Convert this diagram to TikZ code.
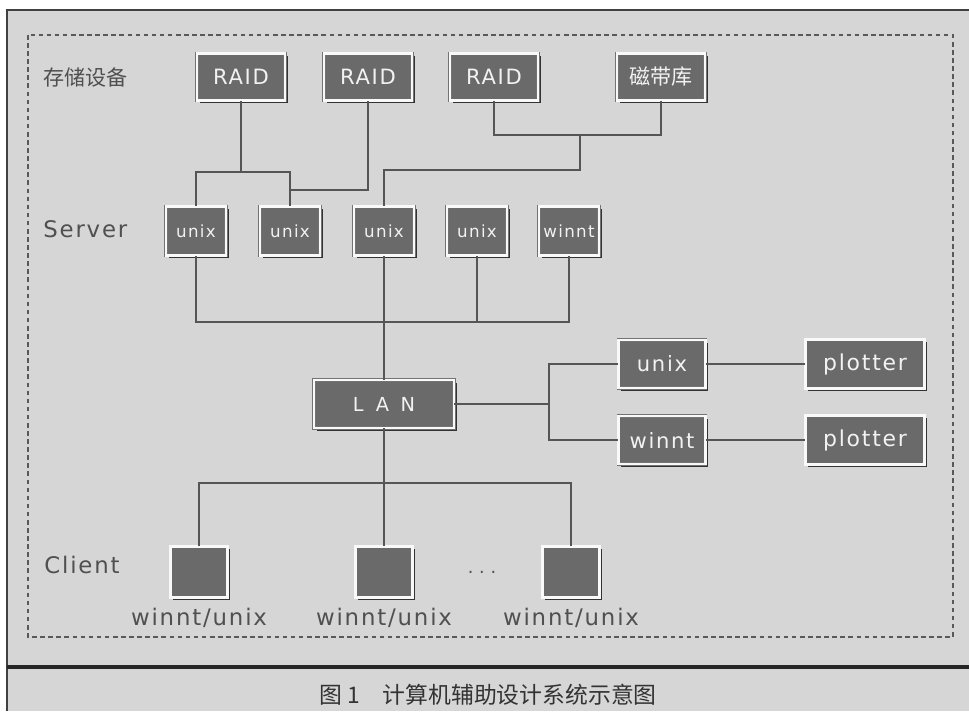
\documentclass[tikz,border=0pt]{standalone}
\usepackage{fontspec}
\setmainfont{DejaVu Sans}
\newfontfamily\boxfont[LetterSpace=8]{DejaVu Sans}
\newfontfamily\lanfont[LetterSpace=60]{DejaVu Sans}
\newfontfamily\cjkfont{Noto Sans CJK SC}
\usetikzlibrary{shapes}
\usetikzlibrary{positioning}
\usetikzlibrary{shadows}
\definecolor{paper}{RGB}{214,214,214}
\definecolor{boxgray}{RGB}{106,106,106}
\definecolor{wire}{RGB}{85,85,85}
\definecolor{labelgray}{RGB}{80,80,80}
\tikzset{
  device/.style={
    draw=black!55, double=white!95!gray, double distance=1.2pt, line width=0.4pt,
    fill=boxgray, text=white!90!gray, inner sep=0pt, font=\boxfont,
    drop shadow={shadow xshift=1.6pt, shadow yshift=-1.6pt, fill=black!80, opacity=1},
  },
  raid/.style={device, minimum width=1.76cm, minimum height=0.94cm, font=\boxfont\fontsize{12}{14}\selectfont},
  server/.style={device, minimum width=1.2cm, minimum height=0.98cm, font=\boxfont\fontsize{9.5}{11}\selectfont},
  lanbox/.style={device, minimum width=2.8cm, minimum height=0.96cm, font=\lanfont\fontsize{11}{13}\selectfont},
  hostbox/.style={device, minimum width=1.74cm, minimum height=0.96cm, font=\boxfont\fontsize{12}{14}\selectfont},
  plotbox/.style={device, minimum width=2.38cm, minimum height=0.98cm, font=\boxfont\fontsize{12.5}{14}\selectfont},
  clientbox/.style={device, minimum width=1.14cm, minimum height=1.02cm},
  wire/.style={draw=wire, line width=0.8pt},
  rowlabel/.style={anchor=west, text=labelgray, inner sep=0pt, font=\boxfont\fontsize{13}{15}\selectfont},
  clientlabel/.style={text=labelgray, inner sep=0pt, font=\boxfont\fontsize{13}{15}\selectfont},
}

\begin{document}
\begin{tikzpicture}[x=0.02cm, y=-0.02cm]
  \useasboundingbox (0,0) rectangle (969,711);
  \fill[white] (0,0) rectangle (969,711);
  \fill[paper] (7,10) rectangle (969,711);
  \draw[black!75, line width=1pt] (7,711) -- (7,10) -- (969,10);
  \draw[black!65, line width=0.6pt, dash pattern=on 2.6pt off 2pt] (28,35) rectangle (953,637);
  \draw[black!85, line width=2.4pt] (7,667) -- (969,667);

  \node[rowlabel, font=\cjkfont\fontsize{12}{14}\selectfont] (storelbl) at (43,77) {存储设备};
  \node[rowlabel] (serverlbl) at (43,229) {Server};
  \node[rowlabel] (clientlbl) at (44,565) {Client};

  \node[raid] (raid1) at (241,77) {RAID};
  \node[raid] (raid2) at (368,77) {RAID};
  \node[raid] (raid3) at (494,77) {RAID};
  \node[raid, font=\cjkfont\fontsize{12}{14}\selectfont] (tape) at (661,77) {磁带库};

  \node[server] (s1) at (196,231) {unix};
  \node[server] (s2) at (290,231) {unix};
  \node[server] (s3) at (384,231) {unix};
  \node[server] (s4) at (477,231) {unix};
  \node[server] (s5) at (569,231) {winnt};

  \node[lanbox] (lan) at (384,404) {LAN};
  \node[hostbox] (u6) at (662,364) {unix};
  \node[hostbox] (w6) at (662,440) {winnt};
  \node[plotbox] (p1) at (865,364) {plotter};
  \node[plotbox] (p2) at (865,440) {plotter};

  \node[clientbox] (c1) at (199,572) {};
  \node[clientbox] (c2) at (384,572) {};
  \node[clientbox] (c3) at (571,572) {};
  \node[text=labelgray, font=\fontsize{10}{12}\selectfont] (more) at (482,572) {.\,\,.\,\,.};
  \node[clientlabel, below=0.2cm of c1] (l1) {winnt/unix};
  \node[clientlabel, below=0.2cm of c2] (l2) {winnt/unix};
  \node[clientlabel, below=0.2cm of c3] (l3) {winnt/unix};

  \coordinate (ja) at (241,172);
  \coordinate (jb) at (290,190);
  \coordinate (jc) at (580,135);
  \coordinate (jd) at (580,170);
  \coordinate (je) at (569,322);
  \coordinate (jf) at (549,404);
  \coordinate (jg) at (384,483);

  \draw[wire] (raid1) -- (ja);
  \draw[wire] (s1) |- (ja) -| (s2);
  \draw[wire] (raid2) |- (jb);
  \draw[wire] (raid3) |- (jc) -| (tape);
  \draw[wire] (jc) -- (jd) -| (s3);
  \draw[wire] (s1) |- (je) -- (s5);
  \draw[wire] (s4) -- (s4 |- je);
  \draw[wire] (s3) -- (lan);
  \draw[wire] (lan) -- (jf);
  \draw[wire] (u6) -| (jf) |- (w6);
  \draw[wire] (u6) -- (p1);
  \draw[wire] (w6) -- (p2);
  \draw[wire] (lan) -- (c2);
  \draw[wire] (c1) |- (jg) -| (c3);

  \node[text=black!80, font=\cjkfont\fontsize{13}{15}\selectfont] (caption) at (488,695) {图 1\quad 计算机辅助设计系统示意图};
\end{tikzpicture}
\end{document}
